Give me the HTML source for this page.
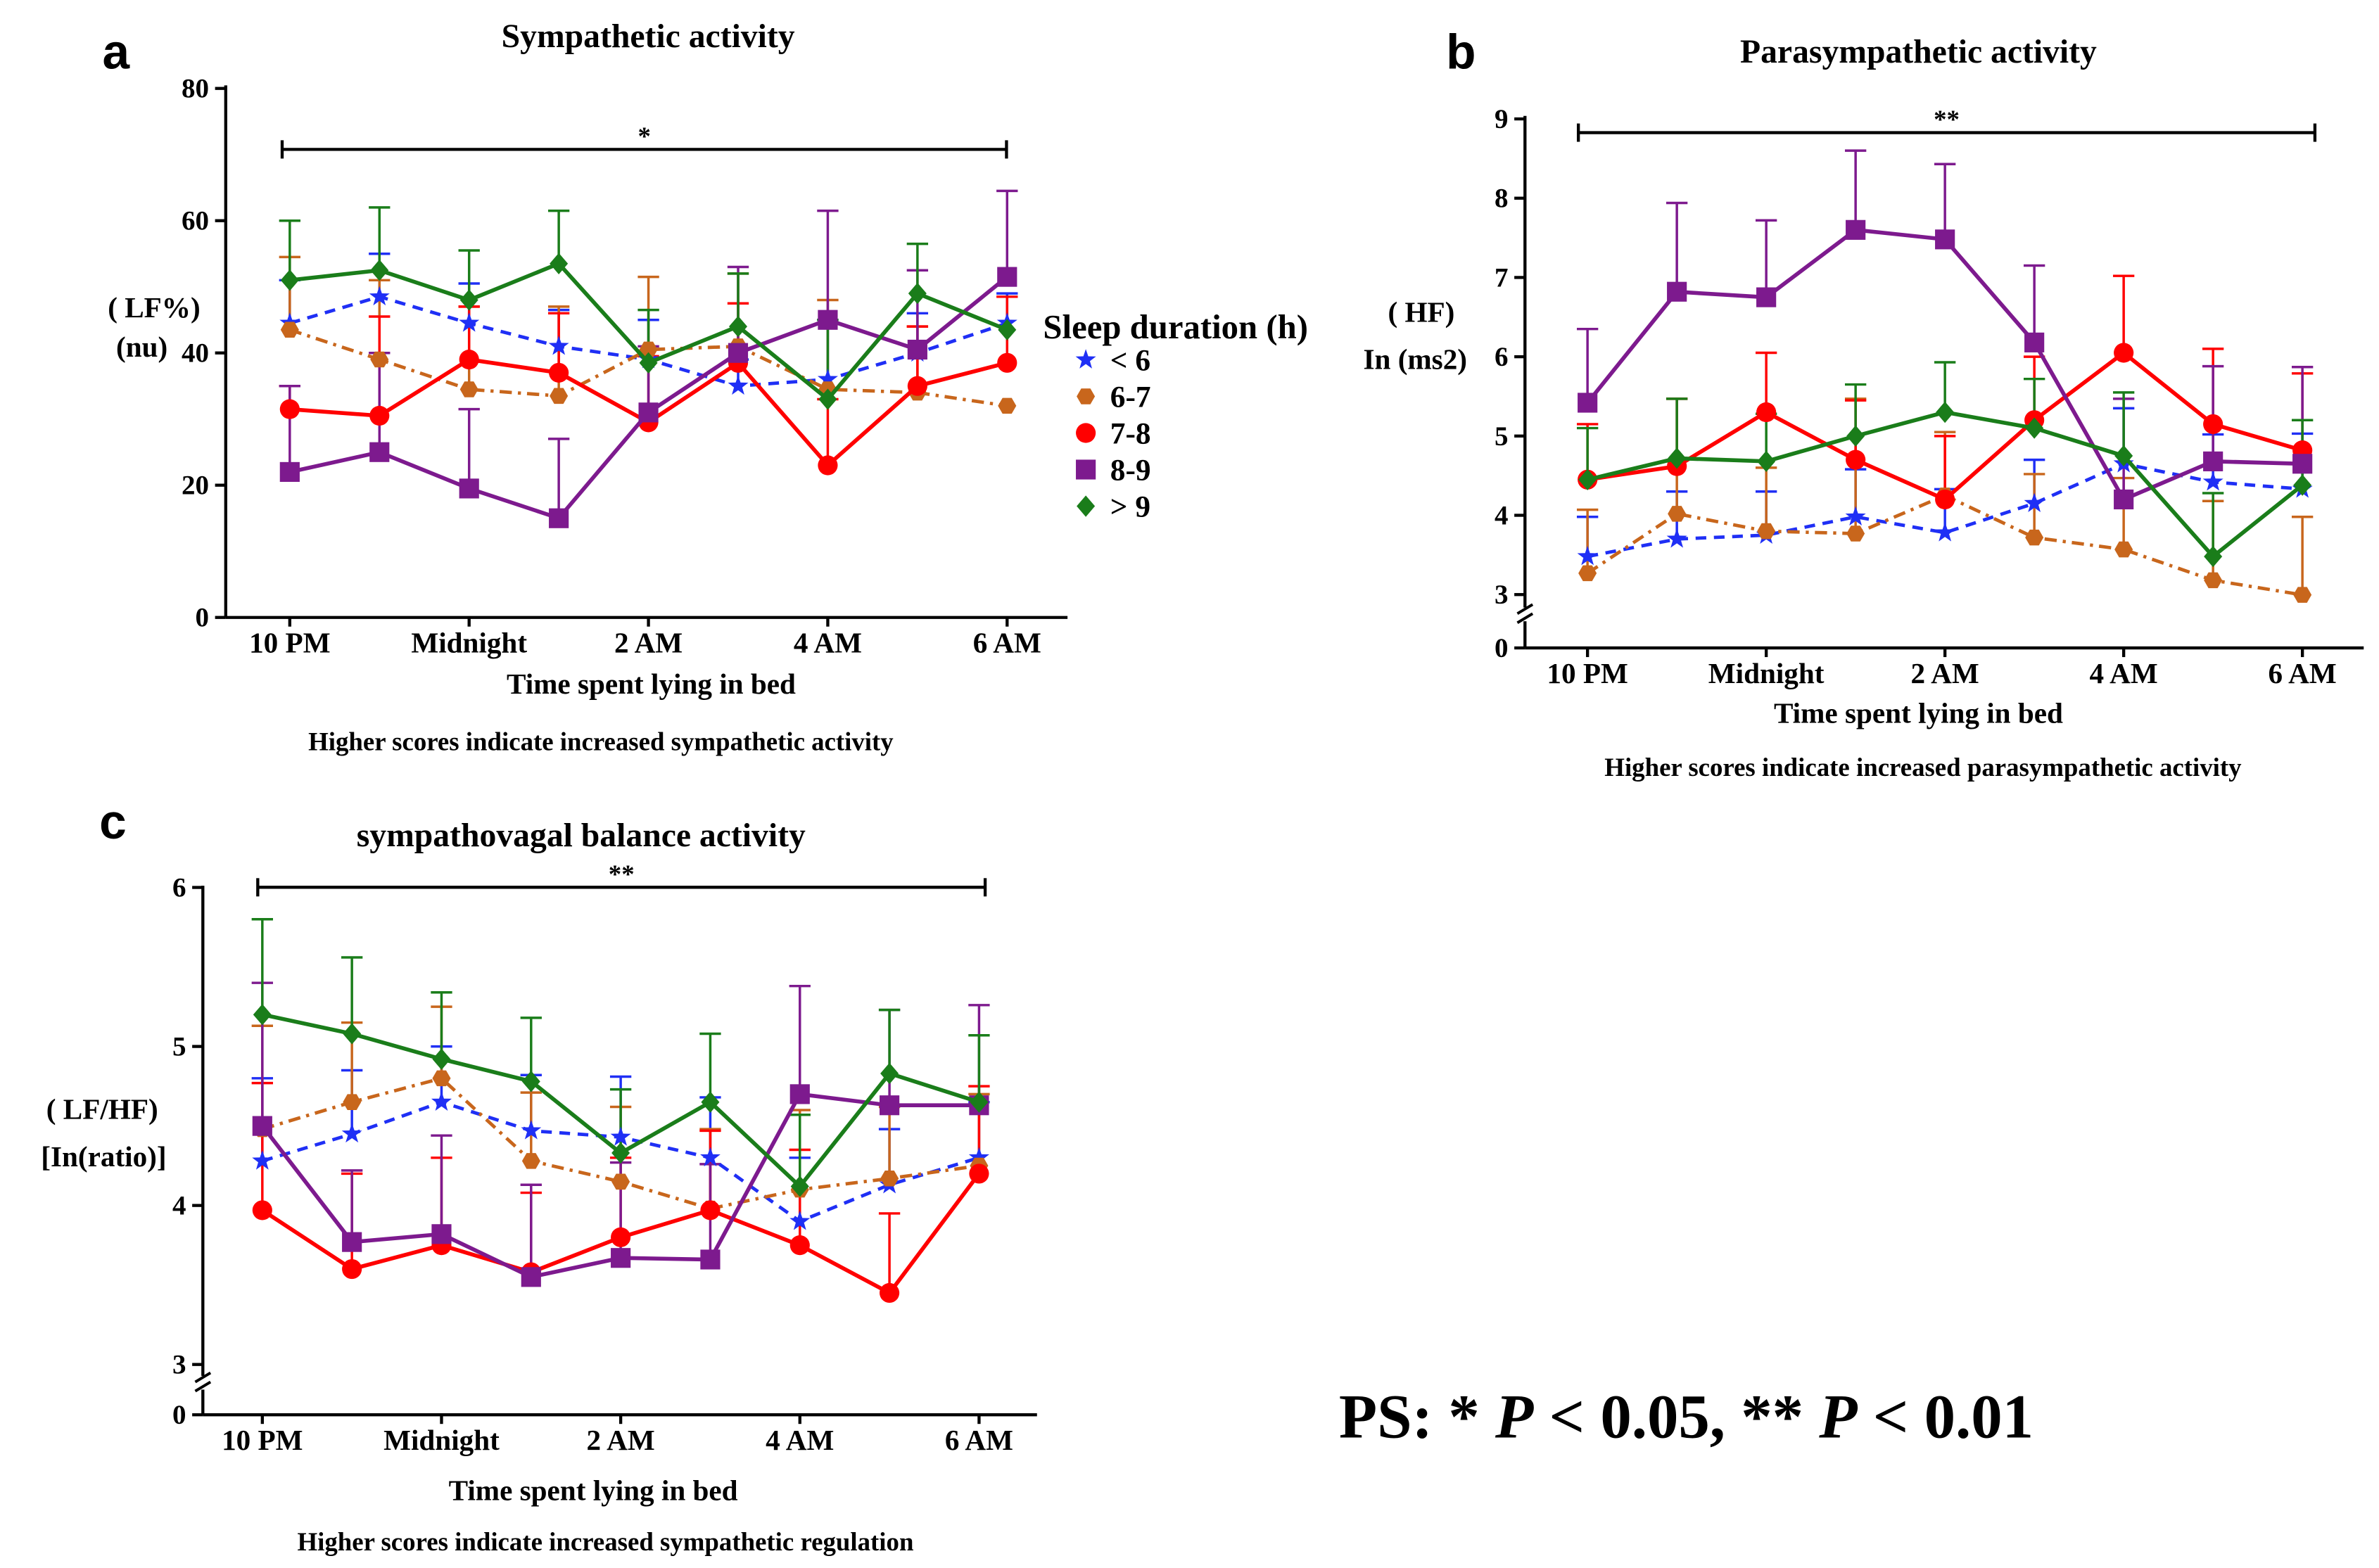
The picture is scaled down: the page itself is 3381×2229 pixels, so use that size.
<!DOCTYPE html>
<html><head><meta charset="utf-8"><style>
html,body{margin:0;padding:0;background:#fff}
svg{display:block}
text{font-family:"Liberation Serif",serif;font-weight:bold;fill:#000}
</style></head><body>
<svg id="c" width="3381" height="2229" viewBox="0 0 1560 1028.5" xmlns="http://www.w3.org/2000/svg"></svg>
<script>
const timeLabels = ["10 PM","","Midnight","","2 AM","","4 AM","","6 AM"];
const seriesNames = ["< 6","6-7","7-8","8-9","> 9"];
// Panel a (LF%)
const aLess6 = [44.5,48.5,44.5,41,39,35,36,40,44.5];
const a67 = [43.5,39,34.5,33.5,40.5,41,34.5,34,32];
const a78 = [31.5,30.5,39,37,29.5,38.5,23,35,38.5];
const a89 = [22,25,19.5,15,31,40,45,40.5,51.5];
const aMore9 = [51,52.5,48,53.5,38.5,44,33,49,43.5];
const aErrLess6 = [6.5,6.5,6,5.5,6,4,9,6,4.5];
const aErr67 = [11,12,12.5,13.5,11,11,13.5,10,0];
const aErr78 = [3.5,15,8,9,10,9,10,9,10];
const aErr89 = [13,15,12,12,10,13,16.5,12,13];
const aErrMore9 = [9,9.5,7.5,8,8,8,12,7.5,0];
const aTicks = [0,20,40,60,80];
// Panel b (HF)
const bLess6 = [3.48,3.7,3.75,3.98,3.78,4.15,4.65,4.42,4.33];
const b67 = [3.27,4.02,3.8,3.77,4.25,3.72,3.57,3.18,2.98];
const b78 = [4.45,4.62,5.3,4.7,4.2,5.2,6.05,5.15,4.82];
const b89 = [5.42,6.82,6.75,7.6,7.48,6.18,4.2,4.68,4.65];
const bMore9 = [4.45,4.72,4.68,5.0,5.3,5.1,4.75,3.48,4.38];
const bErrLess6 = [0.5,0.6,0.55,0.6,0.55,0.55,0.7,0.6,0.7];
const bErr67 = [0.8,1.45,0.8,1.7,0.8,0.8,0.9,1,1.0];
const bErr78 = [0.7,0.85,0.75,0.75,0.8,0.8,0.97,0.95,0.97];
const bErr89 = [0.93,1.12,0.97,1.0,0.95,0.97,1.27,1.2,1.22];
const bErrMore9 = [0.65,0.75,0.6,0.65,0.63,0.62,0.8,0.8,0.82];
const bTicks = [3,4,5,6,7,8,9];
// Panel c (LF/HF)
const cLess6 = [4.28,4.45,4.65,4.47,4.43,4.3,3.9,4.13,4.3];
const c67 = [4.48,4.65,4.8,4.28,4.15,3.98,4.1,4.17,4.25];
const c78 = [3.97,3.6,3.75,3.58,3.8,3.97,3.75,3.45,4.2];
const c89 = [4.5,3.77,3.82,3.55,3.67,3.66,4.7,4.63,4.63];
const cMore9 = [5.2,5.08,4.92,4.78,4.33,4.65,4.12,4.83,4.65];
const cErrLess6 = [0.52,0.4,0.35,0.35,0.38,0.38,0.4,0.35,0.35];
const cErr67 = [0.65,0.5,0.45,0.43,0.47,0.5,0.5,0.45,0.45];
const cErr78 = [0.8,0.6,0.55,0.5,0.5,0.5,0.6,0.5,0.55];
const cErr89 = [0.9,0.45,0.62,0.58,0.6,0.6,0.68,0.6,0.63];
const cErrMore9 = [0.6,0.48,0.42,0.4,0.4,0.43,0.45,0.4,0.42];
const cTicks = [3,4,5,6];

const svg=document.getElementById('c');
const NS="http://www.w3.org/2000/svg";
function mk(tag,attrs,parent){const e=document.createElementNS(NS,tag);for(const k in attrs)e.setAttribute(k,attrs[k]);(parent||svg).appendChild(e);return e;}
function txt(x,y,s,size,name,anchor,extra){const t=mk('text',Object.assign({x:x,y:y,'font-size':size,'text-anchor':anchor||'middle'},extra||{}));t.textContent=s;


return t;}
const colors=["#1f2ff5","#c8661c","#ff0000","#7d1a8e","#1a7d1a"];
const dashes=["7,5","8,4,2,4","","",""];
const widths=[2.2,2.2,2.6,2.6,2.6];

function marker(g,k,x,y){
  const c=colors[k];let m;
  if(k===0){let p=[];for(let i=0;i<10;i++){const r=i%2?2.8:7;const a=-Math.PI/2+i*Math.PI/5;p.push((x+r*Math.cos(a)).toFixed(1)+','+(y+r*Math.sin(a)).toFixed(1));}m=mk('polygon',{points:p.join(' '),fill:c},g);}
  else if(k===1){let p=[];for(let i=0;i<6;i++){const a=i*Math.PI/3;p.push((x+6*Math.cos(a)).toFixed(1)+','+(y+6*Math.sin(a)).toFixed(1));}m=mk('polygon',{points:p.join(' '),fill:c},g);}
  else if(k===2){m=mk('circle',{cx:x,cy:y,r:6.5,fill:c},g);}
  else if(k===3){m=mk('rect',{x:x-6.5,y:y-6.5,width:13,height:13,fill:c},g);}
  else {m=mk('polygon',{points:`${x},${y-7} ${x+6},${y} ${x},${y+7} ${x-6},${y}`,fill:c},g);}
  
  
}

function panel(cfg){
  const g=mk('g',{});
  
  
  const X=i=>cfg.x0+i*cfg.dx;
  const Y=v=>{
    if(cfg.breakV===0) return cfg.yZero-v*cfg.ppu;
    return v<=cfg.breakV? cfg.yZero-(v/cfg.breakV)*(cfg.yZero-cfg.yBreak) : cfg.yBreak-(v-cfg.breakV)*cfg.ppu;
  };
  const ya=mk('line',{x1:cfg.ax,y1:cfg.yTop-2,x2:cfg.ax,y2:cfg.yZero,stroke:'#000','stroke-width':2},g);
  
  const xa=mk('line',{x1:cfg.ax,y1:cfg.yZero,x2:cfg.axEnd,y2:cfg.yZero,stroke:'#000','stroke-width':2},g);
  
  cfg.ticks.forEach(t=>{const y=Y(t);mk('line',{x1:cfg.ax-7,y1:y,x2:cfg.ax,y2:y,stroke:'#000','stroke-width':2},g);
    txt(cfg.ax-11,y+6,String(t),18,'y-tick-label','end');});
  if(cfg.breakV>0){mk('line',{x1:cfg.ax-7,y1:cfg.yZero,x2:cfg.ax,y2:cfg.yZero,stroke:'#000','stroke-width':2},g);
    txt(cfg.ax-11,cfg.yZero+6,'0',18,'y-tick-label','end');
    const yb=(Y(cfg.breakV)+cfg.yZero)/2-4;
    mk('rect',{x:cfg.ax-4,y:yb-5,width:8,height:9,fill:'#fff'},g);
    mk('line',{x1:cfg.ax-5,y1:yb-1,x2:cfg.ax+5,y2:yb-7,stroke:'#000','stroke-width':1.8},g);
    mk('line',{x1:cfg.ax-5,y1:yb+5,x2:cfg.ax+5,y2:yb-1,stroke:'#000','stroke-width':1.8},g);
  }
  timeLabels.forEach((l,i)=>{if(l){mk('line',{x1:X(i),y1:cfg.yZero,x2:X(i),y2:cfg.yZero+6,stroke:'#000','stroke-width':2},g);
    txt(X(i),cfg.yZero+23,l,19,'x-tick-label');}});
  cfg.series.forEach((s,k)=>{s.forEach((v,i)=>{const e=cfg.errs[k][i];if(e>0){const y1=Y(v),y2=Y(v+e);
    const b=mk('line',{x1:X(i),y1:y1,x2:X(i),y2:y2,stroke:colors[k],'stroke-width':1.6},g);
    
    mk('line',{x1:X(i)-7,y1:y2,x2:X(i)+7,y2:y2,stroke:colors[k],'stroke-width':1.6},g);}});});
  cfg.series.forEach((s,k)=>{const pts=s.map((v,i)=>X(i).toFixed(1)+','+Y(v).toFixed(1)).join(' ');
    const pl=mk('polyline',{points:pts,fill:'none',stroke:colors[k],'stroke-width':widths[k]},g);
    if(dashes[k])pl.setAttribute('stroke-dasharray',dashes[k]);
    
    
    s.forEach((v,i)=>marker(g,k,X(i),Y(v)));});
  const sb=cfg.sig;
  const sl=mk('line',{x1:sb[0],y1:sb[2],x2:sb[1],y2:sb[2],stroke:'#000','stroke-width':2},g);
  
  
  mk('line',{x1:sb[0],y1:sb[2]-6,x2:sb[0],y2:sb[2]+6,stroke:'#000','stroke-width':2},g);
  mk('line',{x1:sb[1],y1:sb[2]-6,x2:sb[1],y2:sb[2]+6,stroke:'#000','stroke-width':2},g);
  txt((sb[0]+sb[1])/2,sb[2]-3,sb[3],17,'significance-star');
}

panel({name:'panel-a',x0:190,dx:58.8,ax:148,axEnd:700,yTop:58,yZero:405,breakV:0,yBreak:405,ppu:4.3375,ticks:aTicks,
  series:[aLess6,a67,a78,a89,aMore9],errs:[aErrLess6,aErr67,aErr78,aErr89,aErrMore9],sig:[185,660,98,'*']});
panel({name:'panel-b',x0:1041,dx:58.6,ax:1000,axEnd:1550,yTop:78,yZero:425,breakV:3,yBreak:390,ppu:52,ticks:bTicks,
  series:[bLess6,b67,b78,b89,bMore9],errs:[bErrLess6,bErr67,bErr78,bErr89,bErrMore9],sig:[1035,1518,87,'**']});
panel({name:'panel-c',x0:172,dx:58.75,ax:133,axEnd:680,yTop:583,yZero:928,breakV:3,yBreak:895,ppu:104.3,ticks:cTicks,
  series:[cLess6,c67,c78,c89,cMore9],errs:[cErrLess6,cErr67,cErr78,cErr89,cErrMore9],sig:[169,646,582,'**']});

txt(76,45,'a',32,'panel-letter-a','middle',{style:'font-family:"Liberation Sans",sans-serif'});
txt(958,45,'b',32,'panel-letter-b','middle',{style:'font-family:"Liberation Sans",sans-serif'});
txt(74,550,'c',32,'panel-letter-c','middle',{style:'font-family:"Liberation Sans",sans-serif'});
txt(425,31,'Sympathetic activity',22,'chart-title-a');
txt(1258,41,'Parasympathetic activity',22,'chart-title-b');
txt(381,555,'sympathovagal balance  activity',22,'chart-title-c');
txt(101,208,'( LF%)',19,'y-axis-title-a');
txt(93,234,'(nu)',19,'y-axis-title-a-unit');
txt(932,211,'( HF)',19,'y-axis-title-b');
txt(928,242,'In (ms2)',19,'y-axis-title-b-unit');
txt(67,734,'( LF/HF)',19,'y-axis-title-c');
txt(68,765,'[In(ratio)]',19,'y-axis-title-c-unit');
txt(427,455,'Time spent lying in bed',19,'x-axis-title-a');
txt(1258,474,'Time spent lying in bed',19,'x-axis-title-b');
txt(389,984,'Time spent lying in bed',19,'x-axis-title-c');
txt(394,492,'Higher scores indicate increased sympathetic activity',17,'note-a');
txt(1261,509,'Higher scores indicate increased parasympathetic activity',17,'note-b');
txt(397,1017,'Higher scores indicate increased sympathetic regulation',17,'note-c');
txt(684,222,'Sleep duration (h)',22.5,'legend-title','start');
seriesNames.forEach((n,k)=>{const y=236+k*24;
  const lg=mk('g',{});
  
  
  marker(lg,k,712,y);
  const t=mk('text',{x:728,y:y+7,'font-size':20,'text-anchor':'start'},lg);t.textContent=n;});
const ps=mk('text',{x:878,y:943,'font-size':41,'text-anchor':'start'});


ps.innerHTML='PS: * <tspan font-style="italic">P</tspan> &lt; 0.05, ** <tspan font-style="italic">P</tspan> &lt; 0.01';
</script>
</body></html>
